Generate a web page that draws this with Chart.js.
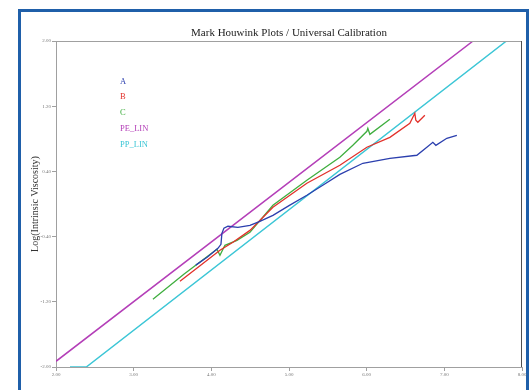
<!DOCTYPE html>
<html>
<head>
<meta charset="utf-8">
<script src="https://cdn.jsdelivr.net/npm/chart.js@4"></script>
<style>
    body { margin: 0; background: #fff; }
    #wrap { position: relative; width: 529px; height: 390px; overflow: hidden; }
    #frame {
        position: absolute; left: 18px; top: 9px; width: 505px; height: 420px;
        border: 3px solid #1f5fa9; border-bottom: none;
    }
    #box { position: absolute; left: 0; top: 0; width: 529px; height: 390px; }
</style>
</head>
<body>
<div id="wrap">
    <div id="frame"></div>
    <div id="box"><canvas id="mhChart"></canvas></div>
</div>
<script>
// Dados (log M, log IV)
const xTicks = [2.00, 3.00, 4.00, 5.00, 6.00, 7.00, 8.00];
const yTicks = [-2.00, -1.20, -0.40, 0.40, 1.20, 2.00];

const chartTitle = 'Mark Houwink Plots / Universal Calibration';
const seriesNames = ['A', 'B', 'C', 'PE_LIN', 'PP_LIN'];
const seriesColors = ['#2b3fae', '#e2312b', '#3fae3f', '#b43fb8', '#3cc6d6'];

const aX = [3.80, 3.95, 4.085, 4.124, 4.136, 4.162, 4.214, 4.342, 4.497, 4.625, 4.793, 5.00, 5.23, 5.45, 5.655, 5.951, 6.299, 6.646, 6.775, 6.852, 6.891, 7.032, 7.161];
const aY = [-0.75, -0.65, -0.544, -0.495, -0.36, -0.298, -0.273, -0.286, -0.261, -0.212, -0.139, -0.02, 0.107, 0.24, 0.364, 0.50, 0.561, 0.598, 0.696, 0.757, 0.72, 0.806, 0.843];

const bX = [3.596, 3.85, 4.111, 4.278, 4.497, 4.793, 5.23, 5.655, 6.003, 6.299, 6.556, 6.62, 6.633, 6.659, 6.749];
const bY = [-0.948, -0.76, -0.568, -0.47, -0.324, -0.04, 0.255, 0.475, 0.696, 0.818, 0.99, 1.113, 1.027, 1.003, 1.088];

const cX = [3.248, 3.65, 4.072, 4.111, 4.175, 4.33, 4.497, 4.793, 5.23, 5.655, 5.822, 6.003, 6.015, 6.041, 6.299];
const cY = [-1.17, -0.86, -0.556, -0.63, -0.507, -0.446, -0.348, -0.016, 0.291, 0.573, 0.72, 0.892, 0.929, 0.855, 1.039];

const peX = [2.00, 7.37, 8.00];
const peY = [-1.93, 2.00, 2.00];

const ppX = [2.18, 2.39, 7.80, 8.00];
const ppY = [-2.00, -2.00, 2.00, 2.00];

function pares(xs, ys) {
    return xs.map((x, i) => ({ x: x, y: ys[i] }));
}

// Título centrado sobre a área do gráfico + legenda só com texto
const textLegend = {
    id: 'textLegend',
    afterDraw(chart) {
        const ctx = chart.ctx;
        const area = chart.chartArea;
        ctx.save();
        ctx.font = '11px "Liberation Serif"';
        ctx.fillStyle = '#222';
        ctx.textAlign = 'center';
        ctx.textBaseline = 'middle';
        ctx.fillText(chartTitle, (area.left + area.right) / 2, 33);

        ctx.font = '8.5px "Liberation Serif"';
        ctx.textAlign = 'left';
        const ys = [82, 97, 113, 129, 145];
        chart.data.datasets.forEach((ds, i) => {
            ctx.fillStyle = ds.borderColor;
            ctx.fillText(ds.label, 120, ys[i]);
        });
        ctx.restore();
    }
};

// Moldura cinza em volta da área do gráfico
const plotFrame = {
    id: 'plotFrame',
    afterDraw(chart) {
        const { left, right, top, bottom } = chart.chartArea;
        const ctx = chart.ctx;
        ctx.save();
        ctx.lineWidth = 1;
        ctx.strokeStyle = '#a0a0a0';
        ctx.beginPath();
        ctx.moveTo(left, top + 0.5);
        ctx.lineTo(right, top + 0.5);
        ctx.stroke();
        ctx.strokeStyle = '#505050';
        ctx.beginPath();
        ctx.moveTo(right - 0.5, top);
        ctx.lineTo(right - 0.5, bottom);
        ctx.stroke();
        ctx.restore();
    }
};

const datasets = [[aX, aY], [bX, bY], [cX, cY], [peX, peY], [ppX, ppY]].map((d, i) => ({
    label: seriesNames[i],
    data: pares(d[0], d[1]),
    borderColor: seriesColors[i],
    backgroundColor: seriesColors[i],
    borderWidth: i < 3 ? 1.3 : 1.5,
    pointRadius: 0,
    showLine: true,
    tension: 0
}));

const tickFont = { family: 'Liberation Serif', size: 5 };

new Chart(document.getElementById('mhChart'), {
    type: 'scatter',
    data: { datasets: datasets },
    plugins: [textLegend, plotFrame],
    options: {
        responsive: true,
        maintainAspectRatio: false,
        animation: false,
        layout: { padding: { left: 0, right: 7, top: 41, bottom: 0 } },
        plugins: {
            legend: { display: false },
            tooltip: { enabled: false },
            title: { display: false }
        },
        scales: {
            x: {
                type: 'linear',
                min: 2, max: 8,
                afterBuildTicks: axis => { axis.ticks = xTicks.map(v => ({ value: v })); },
                afterFit: axis => { axis.height = 23; },
                ticks: { font: tickFont, color: '#777', padding: 1, maxRotation: 0,
                    callback: v => Number(v).toFixed(2) },
                grid: { drawOnChartArea: false, tickLength: 4, color: '#a0a0a0' },
                border: { color: '#a0a0a0' }
            },
            y: {
                type: 'linear',
                min: -2, max: 2,
                afterBuildTicks: axis => { axis.ticks = yTicks.map(v => ({ value: v })); },
                afterFit: axis => { axis.width = 56; },
                ticks: { font: tickFont, color: '#777', padding: 1,
                    callback: v => Number(v).toFixed(2) },
                grid: { drawOnChartArea: false, tickLength: 4, color: '#a0a0a0' },
                border: { color: '#a0a0a0' },
                title: {
                    display: true,
                    text: 'Log(Intrinsic Viscosity)',
                    color: '#333',
                    font: { family: 'Liberation Serif', size: 10 },
                    padding: { top: 29, bottom: 0 }
                }
            }
        }
    }
});
</script>
</body>
</html>
